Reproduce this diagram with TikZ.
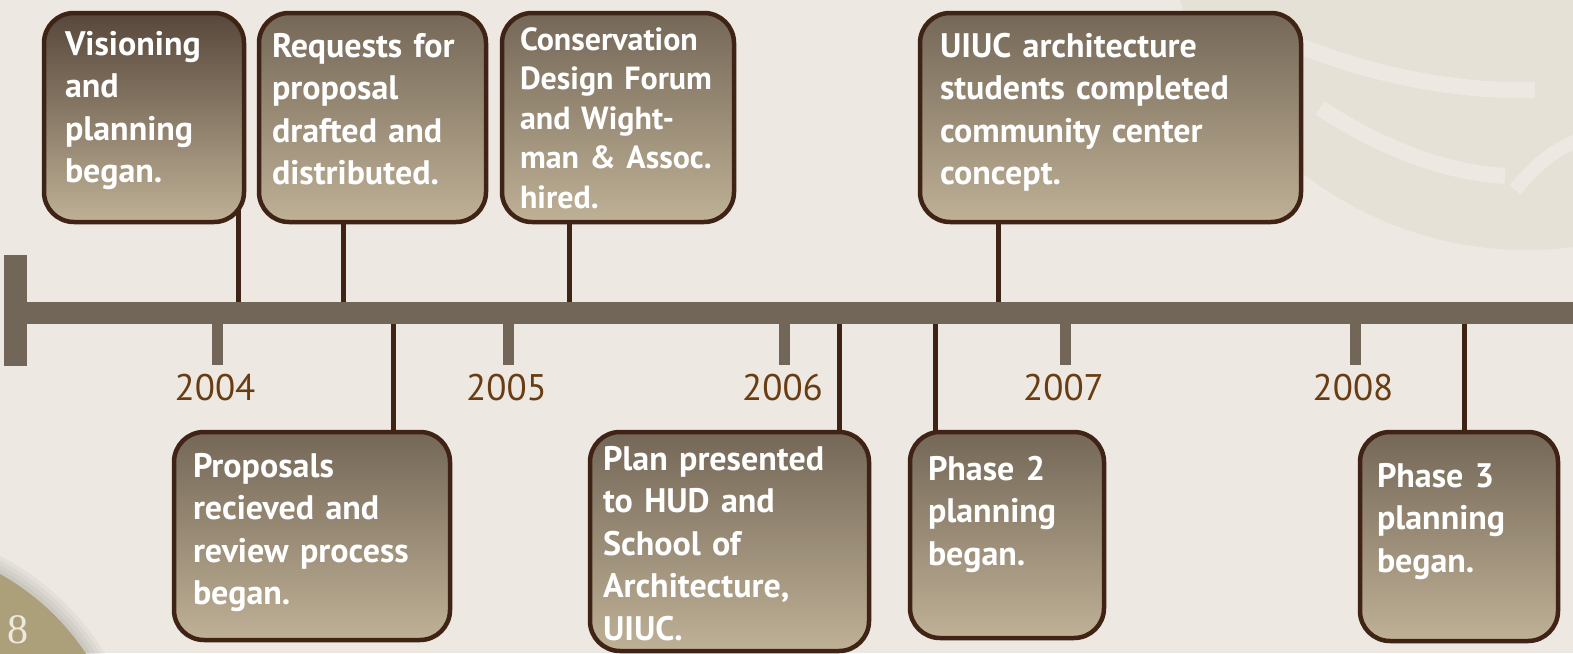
\documentclass[tikz,border=0pt]{standalone}
\usepackage{fontspec}
\setmainfont{PT Sans}
\newfontfamily\pagenumfont{Liberation Serif}
\usepackage{tikz}
\usetikzlibrary{positioning, calc, backgrounds}

\definecolor{paper}{HTML}{EDE8E1}
\definecolor{watermark}{HTML}{E6E1D6}
\definecolor{barbrown}{HTML}{726659}
\definecolor{edgebrown}{HTML}{3F2415}
\definecolor{yearbrown}{HTML}{683D14}
\definecolor{boxtop}{HTML}{746757}
\definecolor{boxtopdark}{HTML}{56473B}
\definecolor{boxbottom}{HTML}{BFB196}
\definecolor{seal}{HTML}{ACA07A}

\tikzset{
    milestone/.style = {rectangle, rounded corners=30pt, draw=edgebrown, line width=4.5pt, top color=boxtop, bottom color=boxbottom, anchor=north west, outer sep=0pt, align=left, text=white, text height=26pt, font=\fontsize{34}{42.5}\selectfont\bfseries},
    link/.style = {draw=edgebrown, line width=5pt},
    bar/.style = {rectangle, fill=barbrown, inner sep=0pt, outer sep=0pt},
    yeartick/.style = {bar, minimum width=11pt, minimum height=41pt, anchor=north},
    yearlabel/.style = {text=yearbrown, font=\fontsize{37}{44}\selectfont, inner sep=0pt, anchor=base}
}

\begin{document}
\begin{tikzpicture}[x=1pt, y=-1pt]
        \useasboundingbox (0,0) rectangle (1573,653);

        % Page background, seal and watermark
        \begin{scope}[on background layer]
            \fill [paper] (0,0) rectangle (1573,653);
            \begin{scope}
                \clip (0,0) rectangle (1573,653);
                \fill [watermark] (1527,-116) circle (366pt);
                \draw [paper, line width=16pt] (1285,40) .. controls (1380,80) and (1470,92) .. (1535,90);
                \draw [paper, line width=16pt] (1320,108) .. controls (1385,150) and (1445,172) .. (1505,176);
                \draw [paper, line width=14pt] (1515,190) .. controls (1535,165) and (1555,148) .. (1585,138);
                \foreach \r in {263,259,255,251}
                    \fill [black, opacity=0.035] (-120,790) circle (\r pt);
                \fill [seal] (-120,790) circle (247pt);
            \end{scope}
        \end{scope}
        \node (pagenum) [font=\pagenumfont\fontsize{42}{42}\selectfont, text=paper, anchor=base west, inner sep=0pt] at (7,643) {8};

        % Timeline axis
        \node (endcap) [bar, minimum width=23pt, minimum height=111pt, anchor=north west] at (4,255) {};
        \node (axis) [bar, minimum width=1580pt, minimum height=22pt, anchor=west] at (5,313) {};
        \foreach \yr/\xpos in {2004/217, 2005/508.5, 2006/784.5, 2007/1065.5, 2008/1355}{
            \node (tick\yr) [yeartick] at (\xpos,324) {};
            \node (year\yr) [yearlabel] at ($(tick\yr.south)+(-2,35)$) {\yr};
        }

        % Events above the axis
        \node (vis) [milestone, top color=boxtopdark, text width=158pt, inner xsep=21pt, inner ysep=16pt, text depth=151pt] at (44,13) {Visioning\\and\\planning\\began.};
        \node (req) [milestone, text width=201pt, inner xsep=13pt, inner ysep=18pt, text depth=147pt] at (259,13) {Requests for\\proposal\\drafted and\\distributed.};
        \node (cons) [milestone, font=\fontsize{32}{39.5}\selectfont\bfseries, text width=196pt, inner xsep=18pt, inner ysep=11pt, text depth=161pt] at (502,13) {Conservation\\Design Forum\\and Wight-\\man \& Assoc.\\hired.};
        \node (uiuc) [milestone, text width=341pt, inner xsep=20pt, inner ysep=18pt, text depth=147pt] at (920,13) {UIUC architecture\\students completed\\community center\\concept.};

        % Events below the axis
        \node (prop) [milestone, text width=238pt, inner xsep=19pt, inner ysep=19pt, text depth=144pt] at (174,432) {Proposals\\recieved and\\review process\\began.};
        \node (plan) [milestone, text width=253pt, inner xsep=13pt, inner ysep=12pt, text depth=169pt] at (590,432) {Plan presented\\to HUD and\\School of\\Architecture,\\UIUC.};
        \node (ph2) [milestone, text width=158pt, inner xsep=18pt, inner ysep=22pt, text depth=136pt] at (910,432) {Phase 2\\planning\\began.};
        \node (ph3) [milestone, text width=164pt, inner xsep=17pt, inner ysep=29pt, text depth=125pt] at (1360,432) {Phase 3\\planning\\began.};

        % Stems from events to the axis
        \begin{scope}[on background layer]
            \draw [link] ([xshift=-6pt]vis.east) -- ([xshift=-6pt]vis.east |- axis.center);
            \draw [link] ([xshift=84pt]req.west) -- ([xshift=84pt]req.west |- axis.center);
            \draw [link] ([xshift=67pt]cons.west) -- ([xshift=67pt]cons.west |- axis.center);
            \draw [link] ([xshift=78pt]uiuc.west) -- ([xshift=78pt]uiuc.west |- axis.center);
            \draw [link] ([xshift=219pt]prop.west) -- ([xshift=219pt]prop.west |- axis.center);
            \draw [link] ([xshift=-30pt]plan.east) -- ([xshift=-30pt]plan.east |- axis.center);
            \draw [link] ([xshift=25pt]ph2.west) -- ([xshift=25pt]ph2.west |- axis.center);
            \draw [link] ([xshift=104pt]ph3.west) -- ([xshift=104pt]ph3.west |- axis.center);
        \end{scope}
    \end{tikzpicture}
\end{document}
